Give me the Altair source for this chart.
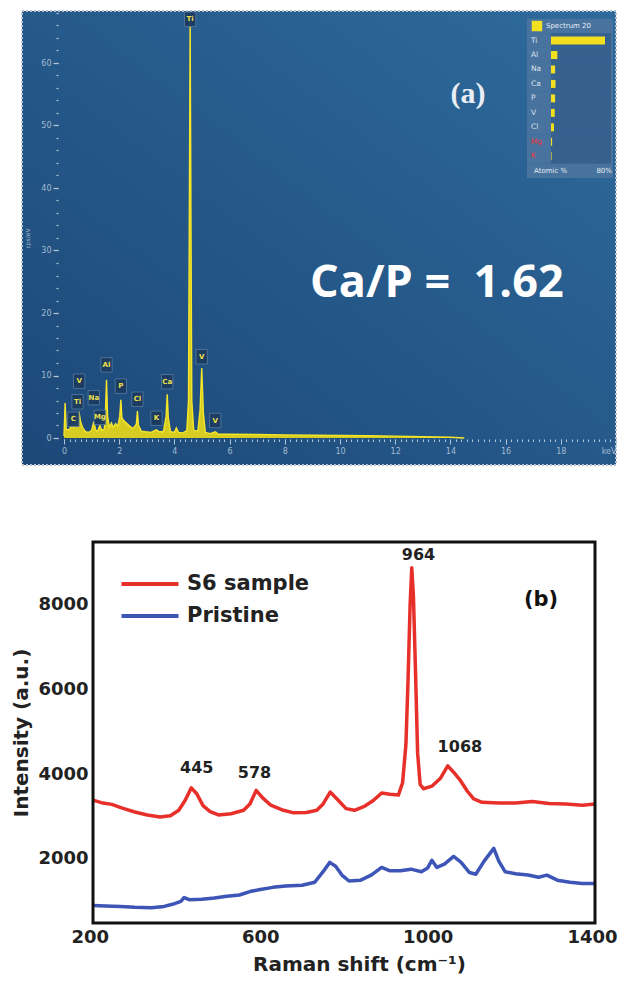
import altair as alt
import pandas as pd

FONT = "DejaVu Sans"

# ---------------- panel (a): EDS spectrum ----------------
eds_kev = [0.00, 0.04, 0.08, 0.15, 0.22, 0.30, 0.36, 0.44, 0.49, 0.55, 0.60, 0.68, 0.78, 0.90,
           1.00, 1.08, 1.15, 1.22, 1.30, 1.37, 1.46, 1.50, 1.54, 1.58, 1.64, 1.72, 1.78, 1.87,
           1.95, 2.02, 2.06, 2.10, 2.18, 2.28, 2.38, 2.50, 2.62, 2.66, 2.70, 2.80, 2.95, 3.15,
           3.35, 3.45, 3.60, 3.70, 3.74, 3.78, 3.86, 4.00, 4.07, 4.15, 4.30, 4.45, 4.51, 4.54,
           4.57, 4.60, 4.63, 4.70, 4.85, 4.93, 4.99, 5.05, 5.12, 5.30, 5.48, 5.60, 6.0, 7.0,
           8.0, 9.0, 10.0, 11.0, 12.0, 13.0, 14.0, 14.5]
eds_cps = [0.3, 5.6, 1.4, 1.3, 1.5, 2.4, 1.8, 2.8, 3.6, 4.0, 2.6, 1.6, 1.0, 0.9,
           1.2, 2.6, 1.2, 1.1, 2.0, 1.2, 1.4, 4.0, 9.3, 3.5, 1.7, 2.4, 1.7, 2.3,
           1.9, 3.5, 6.1, 3.2, 2.7, 2.3, 1.9, 1.5, 2.2, 4.3, 2.0, 1.1, 1.0, 0.9,
           1.3, 1.0, 1.0, 3.5, 7.0, 3.2, 1.0, 0.9, 1.6, 0.9, 0.8, 1.2, 6.0, 35.0,
           67.5, 35.0, 6.0, 1.2, 1.1, 4.5, 11.2, 4.0, 0.9, 0.7, 1.0, 0.6, 0.6, 0.55,
           0.5, 0.45, 0.4, 0.35, 0.3, 0.2, 0.12, 0.0]

eds_peak_names = ["Ti", "V", "Ca", "Al", "P", "Cl", "K", "V", "Na", "Mg", "V", "Ti", "C"]
eds_peak_kev = [4.57, 4.99, 3.74, 1.54, 2.06, 2.66, 3.35, 5.48, 1.08, 1.30, 0.55, 0.49, 0.34]
eds_peak_cps = [67.0, 13.0, 9.0, 11.7, 8.3, 6.2, 3.15, 2.8, 6.45, 3.3, 9.1, 5.8, 3.0]

eds_x_major = [0, 2, 4, 6, 8, 10, 12, 14, 16, 18, 20]
eds_x_minor = [round(i * 0.2, 1) for i in range(0, 101)]
eds_y_major = [0, 10, 20, 30, 40, 50, 60]
eds_y_minor = list(range(0, 69, 2))
eds_x_domain = [-1.522, 20.0]
eds_y_domain = [-4.32, 68.32]

ratio_text = ["Ca/P =\u00a0 1.62"]
ratio_kev = [13.51]
ratio_cps = [22.5]

panel_a_text = ["(a)"]
panel_a_kev = [14.64]
panel_a_cps = [53.6]

# inset: atomic % bars
inset_header = "Spectrum 20"
inset_footer = "Atomic %"
inset_max_label = "80%"
inset_elements = ["Ti", "Al", "Na", "Ca", "P", "V", "Cl", "Mg", "K"]
inset_atomic = [72.0, 8.5, 5.5, 6.0, 5.5, 5.0, 4.0, 1.5, 0.8]
inset_rows = [inset_header] + inset_elements + [inset_footer]

# ---------------- panel (b): Raman ----------------
series_names = ["S6 sample", "Pristine"]
s6_shift = [200, 220, 245, 270, 300, 330, 360, 385, 405, 420, 435, 448, 463, 480, 500,
            530, 560, 575, 590, 605, 625, 655, 680, 710, 735, 750, 767, 785, 805, 825,
            850, 870, 890, 910, 930, 940, 948, 953, 958, 962, 966, 971, 976, 982, 990,
            1010, 1030, 1048, 1062, 1077, 1095, 1110, 1130, 1170, 1210, 1250, 1290, 1330, 1370, 1400]
s6_int = [3390, 3330, 3290, 3200, 3110, 3040, 2990, 3020, 3150, 3380, 3680, 3540, 3260, 3120, 3040,
          3070, 3150, 3300, 3620, 3450, 3270, 3150, 3090, 3100, 3150, 3300, 3580, 3400, 3190, 3150,
          3250, 3380, 3560, 3530, 3510, 3800, 4700, 6200, 8000, 8880, 8200, 6400, 4500, 3760, 3660,
          3720, 3900, 4200, 4050, 3870, 3600, 3420, 3340, 3320, 3320, 3360, 3310, 3300, 3270, 3300]
pr_shift = [200, 230, 265, 300, 340, 370, 390, 410, 418, 430, 460, 490, 520, 550, 575,
            600, 630, 660, 700, 730, 750, 766, 780, 795, 812, 840, 865, 890, 910, 935,
            960, 985, 1000, 1010, 1022, 1040, 1062, 1080, 1100, 1115, 1135, 1158, 1170, 1185, 1210,
            1240, 1265, 1285, 1310, 1340, 1370, 1400]
pr_int = [900, 890, 880, 860, 850, 880, 930, 1000, 1090, 1040, 1050, 1080, 1120, 1150, 1230,
          1280, 1330, 1360, 1380, 1450, 1700, 1920, 1830, 1620, 1480, 1500, 1620, 1800, 1720, 1720,
          1760, 1700, 1790, 1970, 1800, 1880, 2060, 1920, 1680, 1640, 1950, 2250, 1950, 1700, 1650,
          1620, 1570, 1620, 1500, 1450, 1420, 1420]

raman_x_ticks = [200, 600, 1000, 1400]
raman_y_ticks = [2000, 4000, 6000, 8000]
raman_x_domain = [200, 1400]
raman_y_domain = [488, 9488]

peak_marks = ["445", "578", "964", "1068"]
peak_mark_x = [448, 586, 978, 1077]
peak_mark_y = [4150, 4030, 9182, 4646]

panel_b_text = ["(b)"]
panel_b_x = [1271]
panel_b_y = [8119]

# ================= layout (pixel ranges inside one canvas) =================
W, H = 610, 913
A_XRANGE = [14, 608]      # panel (a) plot box, left -> right
A_YRANGE = [455, 1]       # panel (a) plot box, bottom -> top
I_XRANGE = [543, 603]     # inset bars 0% -> 80%
I_YRANGE = [8.8, 168]     # inset rows
B_XRANGE = [85, 587]      # panel (b) frame
B_YRANGE = [913, 532]

AX_COL = "#b3c5d8"
LAB_COL = "#a3bad2"
TXT = "#222222"


def xa_scale():
    return alt.Scale(domain=eds_x_domain, range=A_XRANGE, nice=False, zero=False)


def ya_scale():
    return alt.Scale(domain=eds_y_domain, range=A_YRANGE, nice=False, zero=False)


def xa(field="kev:Q", axis=None):
    return alt.X(field, scale=xa_scale(), axis=axis)


def ya(field="cps:Q", axis=None):
    return alt.Y(field, scale=ya_scale(), axis=axis)


x_axis_major = alt.Axis(
    values=eds_x_major, offset=-484, orient="bottom", domain=False, grid=False, title=None,
    tickColor=AX_COL, tickWidth=1, tickSize=5, zindex=2,
    labelExpr="datum.value == 20 ? 'keV' : format(datum.value, 'd')",
    labelOverlap=False, labelFlush=True, labelColor=LAB_COL, labelFont=FONT,
    labelFontSize=8, labelPadding=3,
)
x_axis_minor = alt.Axis(
    values=eds_x_minor, offset=-484, orient="bottom", domain=False, grid=False, title=None,
    tickColor=AX_COL, tickWidth=1, tickSize=2.5, labels=False, zindex=2,
)
y_axis_major = alt.Axis(
    values=eds_y_major, offset=-50, orient="left", domain=False, grid=False,
    tickColor=AX_COL, tickWidth=1.2, tickSize=5, zindex=2, format="d",
    labelOverlap=False, labelColor=LAB_COL, labelFont=FONT, labelFontSize=8, labelPadding=2,
    title="cps/eV", titleFontSize=6, titleFontWeight="normal", titleColor=LAB_COL,
    titleFont=FONT, titlePadding=10,
)
y_axis_minor = alt.Axis(
    values=eds_y_minor, offset=-50, orient="left", domain=False, grid=False, title=None,
    tickColor=AX_COL, tickWidth=1.2, tickSize=2, labels=False, zindex=2,
)

eds_df = pd.DataFrame({"kev": eds_kev, "cps": eds_cps})
peaks_df = pd.DataFrame({"name": eds_peak_names, "kev": eds_peak_kev, "cps": eds_peak_cps})
ratio_df = pd.DataFrame({"text": ratio_text, "kev": ratio_kev, "cps": ratio_cps})
pa_df = pd.DataFrame({"text": panel_a_text, "kev": panel_a_kev, "cps": panel_a_cps})
one_df = pd.DataFrame({"k": [0]})

bg = alt.Chart(one_df).mark_rect(
    color=alt.Gradient(
        gradient="linear",
        stops=[alt.GradientStop(color="#1c4878", offset=0),
               alt.GradientStop(color="#2e6b9c", offset=1)],
        x1=0, y1=1, x2=1, y2=0,
    ),
    stroke="#b6c2cf", strokeDash=[2, 2], strokeWidth=2,
).encode(
    x=alt.XDatum(eds_x_domain[0], scale=xa_scale(), axis=None),
    x2=alt.datum(eds_x_domain[1]),
    y=alt.YDatum(eds_y_domain[0], scale=ya_scale(), axis=None),
    y2=alt.datum(eds_y_domain[1]),
)
area = alt.Chart(eds_df).mark_area(color="#e2d31c", opacity=0.95).encode(
    x=xa(axis=x_axis_major), y=ya(axis=y_axis_major), y2=alt.datum(0))
spec_line = alt.Chart(eds_df).mark_line(color="#f5e52a", strokeWidth=1.4).encode(
    x=xa(axis=x_axis_minor), y=ya(axis=y_axis_minor))
boxes = alt.Chart(peaks_df).mark_point(
    shape="M-0.78,-1H0.78V1H-0.78Z", size=210, filled=True, color="#1c3b60",
    stroke="#5a7fa8", strokeWidth=0.8, opacity=0.95,
).encode(x=xa(), y=ya())
box_text = alt.Chart(peaks_df).mark_text(
    color="#ece04a", fontSize=7, fontWeight="bold", font=FONT
).encode(x=xa(), y=ya(), text="name:N")
ratio = alt.Chart(ratio_df).mark_text(
    font="Open Sans", fontSize=45, fontWeight="bold", color="#ffffff",
    align="center", baseline="alphabetic",
).encode(x=xa(), y=ya(), text="text:N")
pa = alt.Chart(pa_df).mark_text(
    font="Liberation Serif", fontSize=30, fontWeight="bold", color="#e9eef4",
    align="center", baseline="alphabetic",
).encode(x=xa(), y=ya(), text="text:N")

# inset (own scales)
inset_df = pd.DataFrame({"row": inset_elements, "atomic": inset_atomic})
inset_all_df = pd.DataFrame({"row": inset_rows})
inset_head_df = pd.DataFrame({"row": [inset_header], "text": [inset_header]})
inset_foot1_df = pd.DataFrame({"row": [inset_footer], "text": [inset_footer]})
inset_foot2_df = pd.DataFrame({"row": [inset_footer], "text": [inset_max_label]})


def ix_scale():
    return alt.Scale(domain=[0, 80], range=I_XRANGE, nice=False, zero=False)


def iy():
    return alt.Y("row:N", scale=alt.Scale(domain=inset_rows, range=I_YRANGE,
                                          paddingInner=0, paddingOuter=0), axis=None)


def ix(v):
    return alt.XDatum(v, scale=ix_scale(), axis=None)


inset_box = alt.Chart(inset_all_df).mark_rect(color="#4b74a0", opacity=0.92).encode(
    x=ix(-32), x2=alt.datum(82.7), y=iy())
inset_grid = alt.Chart(inset_df).mark_rect(color="#36618f").encode(
    x=ix(0), x2=alt.datum(80), y=iy())
inset_bars = alt.Chart(inset_df).mark_bar(size=8, color="#f2df1f").encode(
    x=alt.X("atomic:Q", scale=ix_scale(), axis=None), y=iy())
inset_labels = alt.Chart(inset_df).mark_text(
    align="left", fontSize=7.5, font=FONT
).encode(
    x=ix(-26.7), y=iy(), text="row:N",
    color=alt.condition("datum.row == 'Mg' || datum.row == 'K'",
                        alt.value("#e8343c"), alt.value("#dce4ec")),
)
inset_sq = alt.Chart(inset_head_df).mark_square(size=110, color="#f2df1f", opacity=1).encode(
    x=ix(-18.7), y=iy())
inset_head = alt.Chart(inset_head_df).mark_text(
    align="left", fontSize=7, font=FONT, color="#e6ecf2").encode(
    x=ix(-6.7), y=iy(), text="text:N")
inset_foot1 = alt.Chart(inset_foot1_df).mark_text(
    align="left", fontSize=7, font=FONT, color="#e6ecf2").encode(
    x=ix(-22.7), y=iy(), text="text:N")
inset_foot2 = alt.Chart(inset_foot2_df).mark_text(
    align="right", fontSize=7, font=FONT, color="#e6ecf2").encode(
    x=ix(81.3), y=iy(), text="text:N")

# ================= panel (b) =================
raman_df = pd.DataFrame({
    "shift": s6_shift + pr_shift,
    "intensity": s6_int + pr_int,
    "sample": [series_names[0]] * len(s6_shift) + [series_names[1]] * len(pr_shift),
})
marks_df = pd.DataFrame({"text": peak_marks, "shift": peak_mark_x, "intensity": peak_mark_y})
pb_df = pd.DataFrame({"text": panel_b_text, "shift": panel_b_x, "intensity": panel_b_y})


def xb_scale():
    return alt.Scale(domain=raman_x_domain, range=B_XRANGE, nice=False, zero=False)


def yb_scale():
    return alt.Scale(domain=raman_y_domain, range=B_YRANGE, nice=False, zero=False)


x_axis_b = alt.Axis(
    values=raman_x_ticks, title="Raman shift (cm\u207b\u00b9)", orient="bottom", offset=0,
    grid=False, ticks=False, domain=False, format="d",
    labelFont=FONT, labelFontSize=18, labelFontWeight="bold", labelColor=TXT,
    labelPadding=5, labelFlush=True, labelFlushOffset=22,
    titleFont=FONT, titleFontSize=20, titleFontWeight="bold", titleColor=TXT,
    titlePadding=8, titleX=351,
)
y_axis_b = alt.Axis(
    values=raman_y_ticks, title="Intensity (a.u.)", orient="left", offset=-85,
    grid=False, ticks=False, domain=False, format="d",
    labelFont=FONT, labelFontSize=18, labelFontWeight="bold", labelColor=TXT,
    labelPadding=5,
    titleFont=FONT, titleFontSize=20, titleFontWeight="bold", titleColor=TXT,
    titlePadding=6,
)
legend_b = alt.Legend(
    title=None, orient="none", legendX=125, legendY=557,
    symbolType="M-1.9,0H1.9", symbolSize=900, symbolStrokeWidth=4,
    labelFont=FONT, labelFontSize=21, labelFontWeight="bold", labelColor=TXT,
    labelOffset=20, rowPadding=5, padding=0,
)

frame = alt.Chart(one_df).mark_rect(filled=False, stroke="#111111", strokeWidth=3).encode(
    x=alt.XDatum(raman_x_domain[0], scale=xb_scale(), axis=None),
    x2=alt.datum(raman_x_domain[1]),
    y=alt.YDatum(raman_y_domain[0], scale=yb_scale(), axis=None),
    y2=alt.datum(raman_y_domain[1]),
)
lines = alt.Chart(raman_df).mark_line(strokeWidth=3.5, strokeJoin="round").encode(
    x=alt.X("shift:Q", scale=xb_scale(), axis=x_axis_b),
    y=alt.Y("intensity:Q", scale=yb_scale(), axis=y_axis_b),
    color=alt.Color("sample:N", scale=alt.Scale(domain=series_names,
                                                range=["#e8302a", "#3c55b6"]),
                    legend=legend_b),
)
ann = alt.Chart(marks_df).mark_text(
    font=FONT, fontSize=16, fontWeight="bold", color=TXT, baseline="middle"
).encode(
    x=alt.X("shift:Q", scale=xb_scale(), axis=None),
    y=alt.Y("intensity:Q", scale=yb_scale(), axis=None),
    text="text:N",
)
pb = alt.Chart(pb_df).mark_text(
    font=FONT, fontSize=21, fontWeight="bold", color="#111111", baseline="middle"
).encode(
    x=alt.X("shift:Q", scale=xb_scale(), axis=None),
    y=alt.Y("intensity:Q", scale=yb_scale(), axis=None),
    text="text:N",
)

chart = alt.layer(
    bg, area, spec_line, boxes, box_text, ratio, pa,
    inset_box, inset_grid, inset_bars, inset_labels, inset_sq, inset_head,
    inset_foot1, inset_foot2,
    lines, frame, ann, pb,
).resolve_scale(x="independent", y="independent").properties(
    width=W, height=H,
    padding={"left": 0, "top": 2, "right": 0, "bottom": 0},
    background="white",
    view=alt.ViewBackground(stroke=None),
)

chart.save("out.html", embed_options={"renderer": "svg", "actions": False})
